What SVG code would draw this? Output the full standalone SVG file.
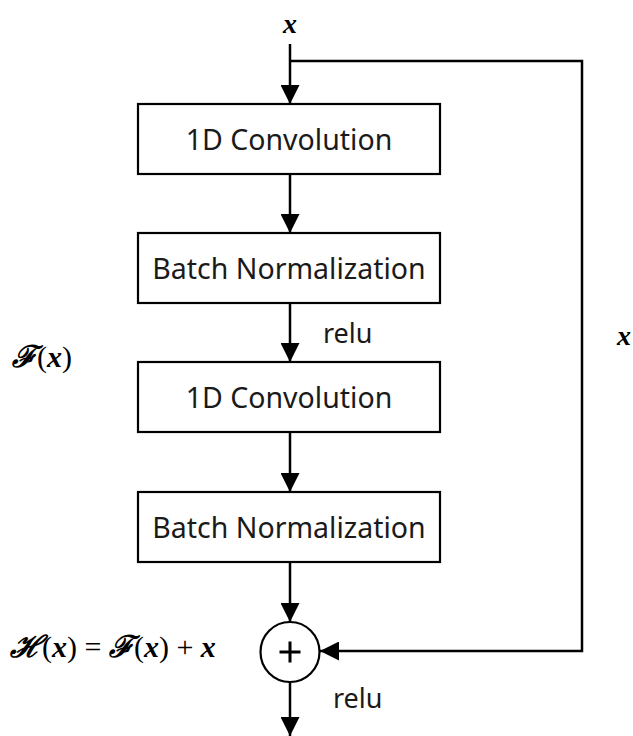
<svg xmlns="http://www.w3.org/2000/svg" width="633" height="736" viewBox="0 0 633 736">
<style>
.box{fill:#fff;stroke:#000;stroke-width:2.2}
.lbl{font-family:"Noto Sans","Open Sans",sans-serif;font-size:28.5px;fill:#1a1a1a;text-anchor:middle}
.relu{font-family:"Noto Sans","Open Sans",sans-serif;font-size:27px;fill:#1a1a1a}
.math{font-family:"Liberation Serif","DejaVu Serif",serif;font-style:italic;font-weight:bold;font-size:28px;fill:#000}
.big{font-size:30px}
.scr{font-family:"DejaVu Serif","Liberation Serif",serif;font-style:italic;font-weight:bold}
.up{font-style:normal;font-weight:normal}
.ln{fill:none;stroke:#000;stroke-width:2.5}
</style>
<defs>
<marker id="ah" markerUnits="userSpaceOnUse" markerWidth="19" markerHeight="19" refX="19" refY="9.5" orient="auto">
<path d="M0,0 L19,9.5 L0,19 Z" fill="#000"/>
</marker>
</defs>
<g id="connectors">
<path class="ln" d="M290,44 V104" marker-end="url(#ah)"/>
<path class="ln" d="M290,61 H582 V651 H320" marker-end="url(#ah)"/>
<path class="ln" d="M290,174 V233" marker-end="url(#ah)"/>
<path class="ln" d="M290,303 V362" marker-end="url(#ah)"/>
<path class="ln" d="M290,432 V492" marker-end="url(#ah)"/>
<path class="ln" d="M290,562 V622" marker-end="url(#ah)"/>
<path class="ln" d="M290,682 V736" marker-end="url(#ah)"/>
</g>
<g id="conv1"><rect class="box" x="138" y="104" width="302" height="70"/><text class="lbl" x="289" y="150">1D Convolution</text></g>
<g id="bn1"><rect class="box" x="138" y="233" width="302" height="70"/><text class="lbl" x="289" y="279">Batch Normalization</text></g>
<g id="conv2"><rect class="box" x="138" y="362" width="302" height="70"/><text class="lbl" x="289" y="408">1D Convolution</text></g>
<g id="bn2"><rect class="box" x="138" y="492" width="302" height="70"/><text class="lbl" x="289" y="538">Batch Normalization</text></g>
<g id="add"><ellipse cx="290" cy="652" rx="29.5" ry="30" fill="#fff" stroke="#000" stroke-width="2.2"/><path d="M279.5,652 H300.5 M290,641.5 V662.5" stroke="#000" stroke-width="3"/></g>
<g id="labels">
<text class="relu" x="323" y="343">relu</text>
<text class="relu" x="333" y="708">relu</text>
<text class="math" x="290" y="33" text-anchor="middle">x</text>
<text class="math" x="617" y="345">x</text>
<text class="math big" x="12" y="367"><tspan class="scr">ℱ</tspan><tspan class="up">(</tspan>x<tspan class="up">)</tspan></text>
<text class="math big" x="10" y="657"><tspan class="scr">ℋ</tspan><tspan class="up">(</tspan>x<tspan class="up">) = </tspan><tspan class="scr">ℱ</tspan><tspan class="up">(</tspan>x<tspan class="up">) + </tspan>x</text>
</g>
</svg>
